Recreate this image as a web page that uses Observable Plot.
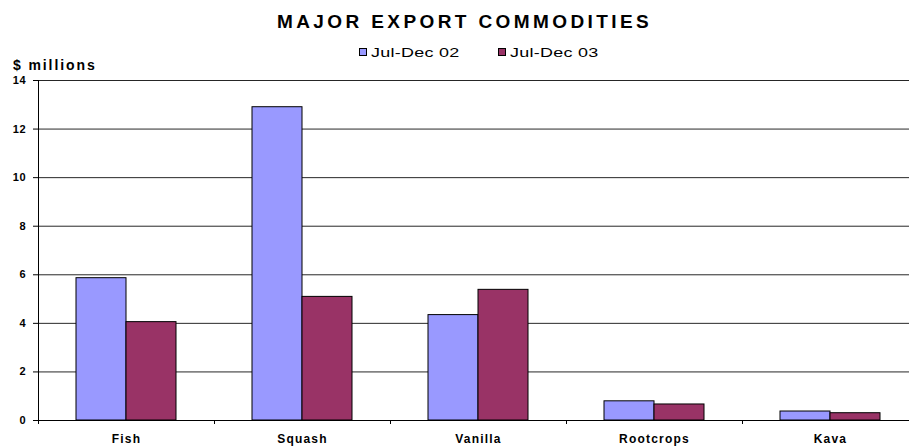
<!DOCTYPE html>
<html><head><meta charset="utf-8">
<script src="https://cdn.jsdelivr.net/npm/d3@7"></script>
<script src="https://cdn.jsdelivr.net/npm/@observablehq/plot@0.6"></script>
<style>
html,body{margin:0;padding:0;background:#fff;overflow:hidden;}
body{width:909px;height:446px;font-family:"Liberation Sans",Arial,sans-serif;color:#000;}
#header{position:relative;height:72px;width:909px;}
#title{position:absolute;left:10px;width:909px;top:12px;text-align:center;font-size:19px;line-height:19px;font-weight:bold;letter-spacing:3.4px;white-space:nowrap;}
.sw{position:absolute;top:48px;width:8px;height:8px;box-sizing:border-box;border:1px solid #000;}
.lt{position:absolute;top:45.5px;font-size:13px;line-height:13px;letter-spacing:0.2px;white-space:nowrap;transform:scaleX(1.38);transform-origin:0 0;}
#ylabel{position:absolute;left:13px;top:57.6px;font-size:14px;line-height:14px;font-weight:bold;letter-spacing:1.9px;white-space:nowrap;}
g[aria-label="fx-axis tick label"] text{letter-spacing:1.2px;}
g[aria-label="y-axis tick label"] text{letter-spacing:0.8px;}
</style></head><body>
<div id="header">
  <div id="title">MAJOR EXPORT COMMODITIES</div>
  <div id="ylabel">$ millions</div>
</div>
<div id="chart"></div>
<script>
const categories = ["Fish", "Squash", "Vanilla", "Rootcrops", "Kava"];
const seriesNames = ["Jul-Dec 02", "Jul-Dec 03"];
const values02 = [5.86, 12.9, 4.34, 0.79, 0.37];
const values03 = [4.05, 5.09, 5.38, 0.66, 0.30];
const yTicks = [0, 2, 4, 6, 8, 10, 12, 14];
const seriesColors = ["#9999FF", "#993366"];

// legend (HTML)
const header = document.getElementById("header");
const legendLeft = [359, 498];
seriesNames.forEach((name, i) => {
  const sw = document.createElement("div");
  sw.className = "sw";
  sw.style.left = legendLeft[i] + "px";
  sw.style.background = seriesColors[i];
  header.appendChild(sw);
  const t = document.createElement("div");
  t.className = "lt";
  t.style.left = (legendLeft[i] + 11.5) + "px";
  t.textContent = name;
  header.appendChild(t);
});

const data = categories.flatMap((c, i) => [
  {category: c, series: seriesNames[0], value: values02[i]},
  {category: c, series: seriesNames[1], value: values03[i]}
]);

const plot = Plot.plot({
  width: 909,
  height: 374,
  marginTop: 8,
  marginBottom: 26,
  marginLeft: 36,
  marginRight: -10,
  style: {fontFamily: "Liberation Sans, Arial, sans-serif", fontSize: "11px", fontWeight: "bold", color: "#000", background: "#fff"},
  fx: {domain: categories, padding: 0, label: null},
  x: {domain: seriesNames, paddingInner: 0, paddingOuter: 0.744, axis: null},
  y: {domain: [0, 14], label: null},
  color: {domain: seriesNames, range: seriesColors},
  marks: [
    Plot.gridY(yTicks, {stroke: "#000", strokeOpacity: 0.85}),
    Plot.barY(data, {fx: "category", x: "series", y: "value", fill: "series", stroke: "#000", strokeWidth: 1}),
    Plot.ruleY([0], {stroke: "#000"}),
    Plot.axisY(yTicks, {tickSize: 5, tickPadding: 7, fontSize: 11, fontWeight: "bold", label: null}),
    Plot.axisFx({anchor: "bottom", tickSize: 0, tickPadding: 14, fontSize: 12, fontWeight: "bold", label: null})
  ]
});

// axis line and category boundary ticks, positioned with Plot's own scales
const fxs = plot.scale("fx");
const ys = plot.scale("y");
const y0 = ys.apply(0), yTop = ys.apply(yTicks[yTicks.length - 1]);
const g = d3.select(plot).append("g").attr("stroke", "#000").attr("stroke-width", 1);
const x0 = Math.round(fxs.apply(categories[0])) + 0.5;
g.append("line").attr("x1", x0).attr("x2", x0).attr("y1", yTop).attr("y2", y0 + 4);
categories.slice(1).forEach(c => {
  const x = Math.round(fxs.apply(c)) + 0.5;
  g.append("line").attr("x1", x).attr("x2", x).attr("y1", y0).attr("y2", y0 + 4);
});

document.getElementById("chart").appendChild(plot);
</script>
</body></html>
